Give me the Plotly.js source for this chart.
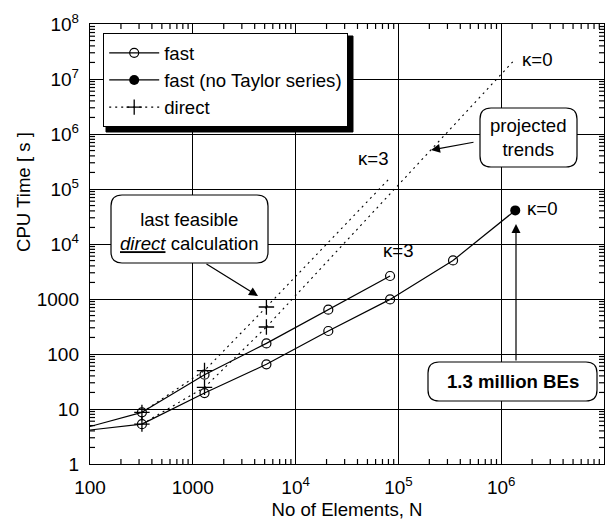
<!DOCTYPE html>
<html>
<head>
<meta charset="utf-8">
<script src="https://cdn.plot.ly/plotly-3.0.1.min.js"></script>
<style>html,body{margin:0;padding:0;background:#fff;}#chart{width:616px;height:521px;}</style>
</head>
<body>
<div id="chart"></div>
<script>
// ---- data ----
const nFast = [320, 1300, 5200, 20800, 83000, 340000];
const tFastK3 = [8.7, 42, 156, 640, 2620];
const tFastK0 = [5.3, 19.5, 65, 262, 984, 5020];
const nStart = [100, 320];
const tStartK3 = [4.8, 8.7];
const tStartK0 = [4.15, 5.3];
const nNoTaylor = [1370000];
const tNoTaylor = [40800];
const nDirect = [320, 1300, 5200];
const tDirectK3 = [8.7, 50, 716];
const tDirectK0 = [5.3, 24.7, 310];
const nProjK3 = [5200, 83000];
const tProjK3 = [716, 160000];
const nProjK0 = [5200, 1370000];
const tProjK0 = [310, 23000000];
const xTickVals = [100, 1000, 1e4, 1e5, 1e6, 1e7];
const xTickText = ['100', '1000', '10<sup>4</sup>', '10<sup>5</sup>', '10<sup>6</sup>', '10<sup>7</sup>'];
const yTickVals = [1, 10, 100, 1000, 1e4, 1e5, 1e6, 1e7, 1e8];
const yTickText = ['1', '10', '100', '1000', '10<sup>4</sup>', '10<sup>5</sup>', '10<sup>6</sup>', '10<sup>7</sup>', '10<sup>8</sup>'];
const xRange = [2, 7];
const yRange = [0, 8];

// ---- layout helpers ----
const ML = 90, MR = 12, MT = 24, MB = 57, WID = 616, HEI = 521;
const PW = WID - ML - MR, PH = HEI - MT - MB;
const px = x => (x - ML) / PW;
const py = y => 1 - (y - MT) / PH;
const P = (x, y) => px(x).toFixed(5) + ',' + py(y).toFixed(5);
function roundRect(x0, y0, x1, y1, r) {
  return 'M' + P(x0 + r, y0) + 'L' + P(x1 - r, y0) + 'Q' + P(x1, y0) + ' ' + P(x1, y0 + r) +
    'L' + P(x1, y1 - r) + 'Q' + P(x1, y1) + ' ' + P(x1 - r, y1) +
    'L' + P(x0 + r, y1) + 'Q' + P(x0, y1) + ' ' + P(x0, y1 - r) +
    'L' + P(x0, y0 + r) + 'Q' + P(x0, y0) + ' ' + P(x0 + r, y0) + 'Z';
}
function plainRect(x0, y0, x1, y1) {
  return 'M' + P(x0, y0) + 'L' + P(x1, y0) + 'L' + P(x1, y1) + 'L' + P(x0, y1) + 'Z';
}
// one small tick shape per minor position (2..9 of each decade) on all four sides of the frame
function minorTickShapes(len) {
  const out = [];
  const lx = len / PH, ly = len / PW;
  const seg = (x0, y0, x1, y1) => ({type: 'line', xref: 'paper', yref: 'paper', x0: x0, y0: y0, x1: x1, y1: y1,
    line: {color: '#000', width: 1.2}, layer: 'above'});
  for (let d = xRange[0]; d < xRange[1]; d++) for (let k = 2; k <= 9; k++) {
    const f = ((d + Math.log10(k)) - xRange[0]) / (xRange[1] - xRange[0]);
    out.push(seg(f, 0, f, lx));
    out.push(seg(f, 1, f, 1 - lx));
  }
  for (let d = yRange[0]; d < yRange[1]; d++) for (let k = 2; k <= 9; k++) {
    const f = ((d + Math.log10(k)) - yRange[0]) / (yRange[1] - yRange[0]);
    out.push(seg(0, f, ly, f));
    out.push(seg(1, f, 1 - ly, f));
  }
  return out;
}
const FONT = '"Liberation Sans", Arial, Helvetica, sans-serif';
const BLK = '#000';
const FS = 18.6;

const lineSolid = {color: BLK, width: 1.2};
const lineDot = {color: BLK, width: 1.1, dash: '2px,4px'};
const openCircle = {symbol: 'circle-open', size: 9, color: BLK, line: {width: 1.2, color: BLK}};
const plusMark = {symbol: 'cross-thin-open', size: 11, color: BLK, line: {width: 1.3, color: BLK}};

const traces = [
  {x: nStart, y: tStartK3, mode: 'lines', line: lineSolid, showlegend: false, hoverinfo: 'skip'},
  {x: nFast.slice(0, tFastK3.length), y: tFastK3, mode: 'lines+markers', name: 'fast', line: lineSolid, marker: openCircle, legendgroup: 'fast'},
  {x: nStart, y: tStartK0, mode: 'lines', line: lineSolid, showlegend: false, hoverinfo: 'skip'},
  {x: nFast, y: tFastK0, mode: 'lines+markers', name: 'fast', line: lineSolid, marker: openCircle, legendgroup: 'fast', showlegend: false},
  {x: [nFast[nFast.length - 1], nNoTaylor[0]], y: [tFastK0[tFastK0.length - 1], tNoTaylor[0]], mode: 'lines', line: lineSolid, showlegend: false, hoverinfo: 'skip'},
  {x: nNoTaylor, y: tNoTaylor, mode: 'lines+markers', name: 'fast (no Taylor series)', line: lineSolid, marker: {symbol: 'circle', size: 10, color: BLK}},
  {x: nDirect, y: tDirectK3, mode: 'lines+markers', name: 'direct', line: lineDot, marker: plusMark, legendgroup: 'direct'},
  {x: nDirect, y: tDirectK0, mode: 'lines+markers', name: 'direct', line: lineDot, marker: plusMark, legendgroup: 'direct', showlegend: false},
  {x: nProjK3, y: tProjK3, mode: 'lines', line: lineDot, showlegend: false, hoverinfo: 'skip'},
  {x: nProjK0, y: tProjK0, mode: 'lines', line: lineDot, showlegend: false, hoverinfo: 'skip'}
];

const boxes = [
  [111, 195, 268, 263, 11],
  [480, 108, 577, 167, 11],
  [428, 362, 597, 401, 11]
];
// legend drop shadow (the legend box is drawn on top of it), the rounded callout boxes, then minor ticks
const shapes = [
  {type: 'path', xref: 'paper', yref: 'paper', path: plainRect(106, 36, 353, 132),
    fillcolor: BLK, line: {color: BLK, width: 1}, layer: 'above'}
].concat(boxes.map(b => ({
  type: 'path', xref: 'paper', yref: 'paper', path: roundRect(b[0], b[1], b[2], b[3], b[4]),
  fillcolor: '#fff', line: {color: BLK, width: 1.2}, layer: 'above'
}))).concat(minorTickShapes(5));

function txt(text, x, y, extra) {
  return Object.assign({text: text, xref: 'paper', yref: 'paper', x: px(x), y: py(y), showarrow: false,
    xanchor: 'center', yanchor: 'middle', font: {family: FONT, size: FS, color: BLK}}, extra || {});
}
function arrow(x0, y0, x1, y1) {
  return {text: '', xref: 'paper', yref: 'paper', x: px(x1), y: py(y1), ax: x0 - x1, ay: y0 - y1,
    showarrow: true, arrowhead: 2, arrowsize: 1.5, arrowwidth: 1.2, arrowcolor: BLK, standoff: 0};
}
const annotations = [
  txt('last feasible<br><i><u>direct</u></i> calculation', 189.5, 231),
  txt('projected<br>trends', 528.5, 137.5),
  txt('<b>1.3 million BEs</b>', 512.5, 381.5),
  txt('κ=0', 537, 60),
  txt('κ=3', 373, 158),
  txt('κ=3', 398, 251),
  txt('κ=0', 542, 208),
  txt('CPU Time [ s ]', 23, 192, {textangle: -90}),
  arrow(205, 263, 258, 296),
  arrow(475, 142, 431, 150),
  arrow(516, 362, 516, 224)
];

const axisCommon = {
  type: 'log', showgrid: true, gridcolor: BLK, gridwidth: 1, showline: true, linecolor: BLK, linewidth: 1.2,
  mirror: 'allticks', ticks: 'inside', ticklen: 5, tickwidth: 1, tickcolor: BLK, zeroline: false,
  tickfont: {family: FONT, size: 19, color: BLK}, tickmode: 'array'
};

const layout = {
  width: WID, height: HEI,
  margin: {l: ML, r: MR, t: MT, b: MB},
  paper_bgcolor: '#fff', plot_bgcolor: '#fff',
  font: {family: FONT, size: FS, color: BLK},
  showlegend: true,
  legend: {x: px(103), y: py(33), xanchor: 'left', yanchor: 'top', bgcolor: '#fff', bordercolor: BLK,
    borderwidth: 1.2, font: {family: FONT, size: FS, color: BLK}, itemwidth: 50, tracegroupgap: 0},
  xaxis: Object.assign({}, axisCommon, {range: xRange, tickvals: xTickVals, ticktext: xTickText,
    ticklabelstandoff: 6,
    title: {text: 'No of Elements, N', font: {family: FONT, size: FS, color: BLK}, standoff: 6}}),
  yaxis: Object.assign({}, axisCommon, {range: yRange, tickvals: yTickVals, ticktext: yTickText,
    ticklabelstandoff: 6}),
  shapes: shapes,
  annotations: annotations
};

Plotly.newPlot('chart', traces, layout, {displayModeBar: false, staticPlot: true});
</script>
</body>
</html>
